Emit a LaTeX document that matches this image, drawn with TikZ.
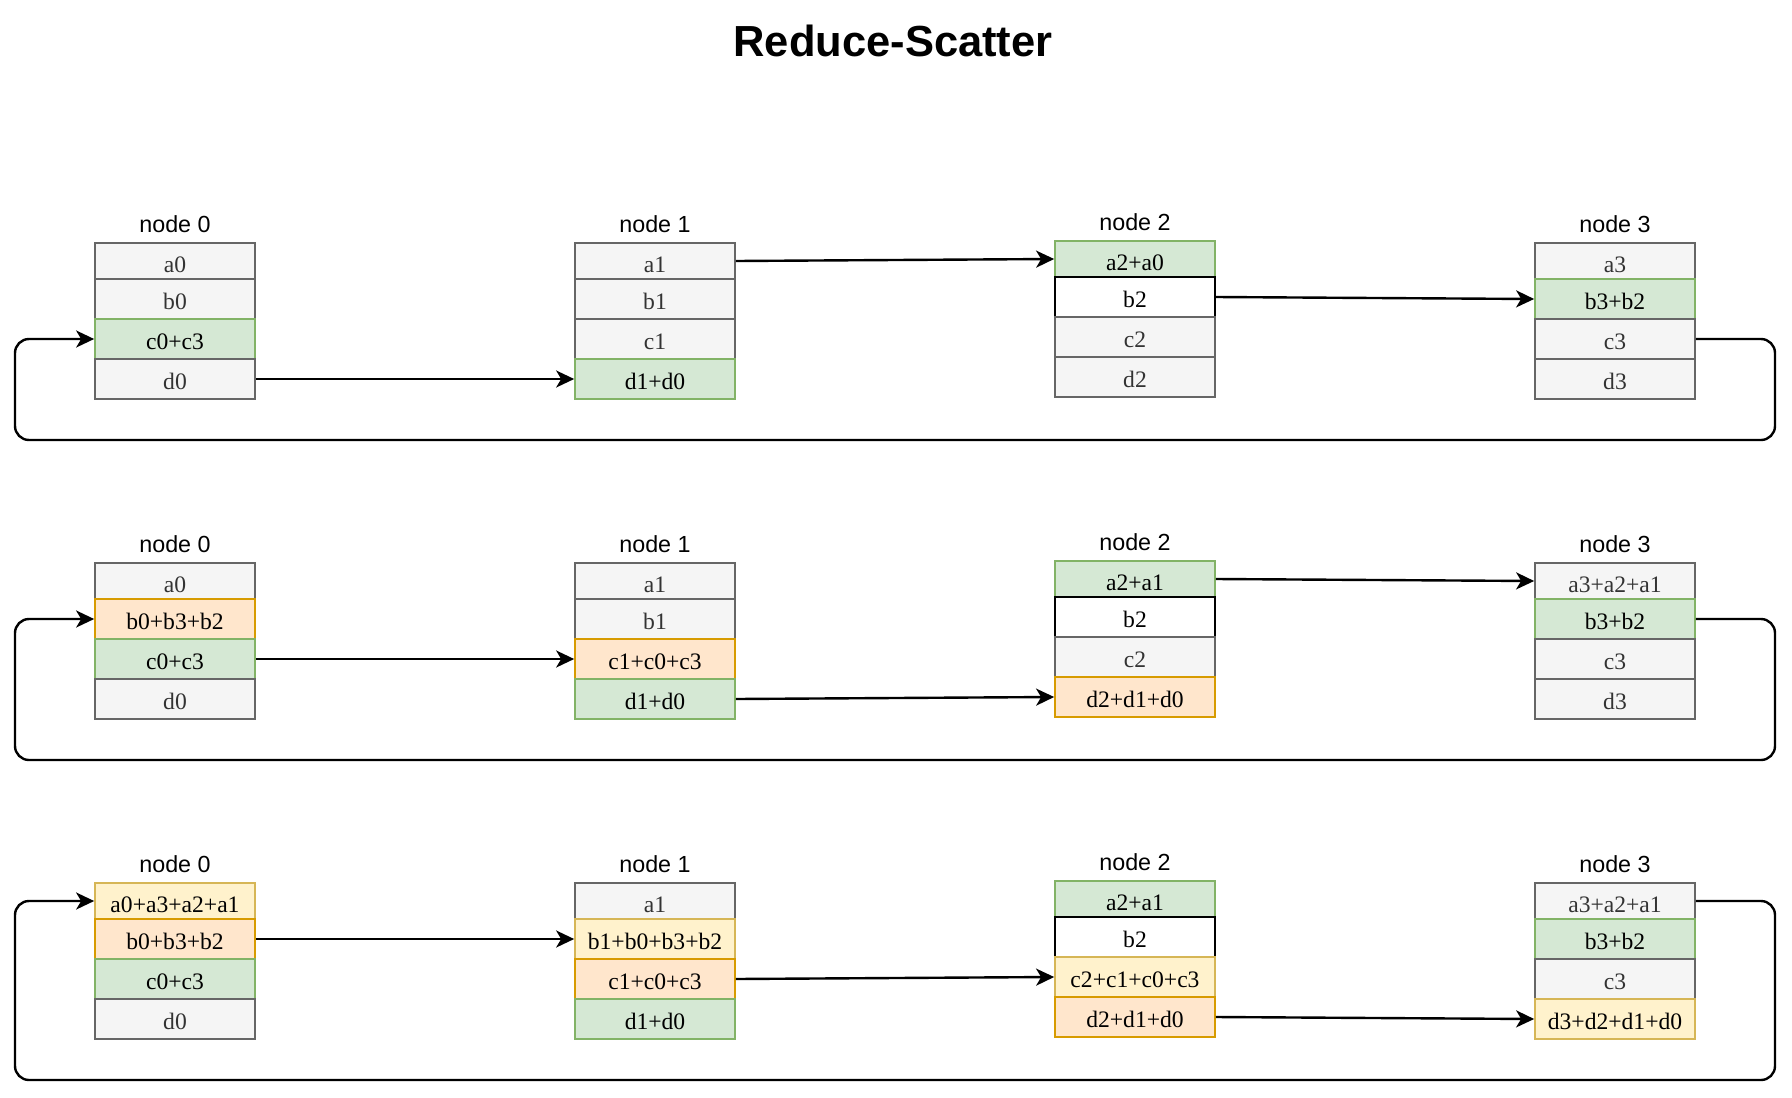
\documentclass[tikz,border=0pt]{standalone}
\usepackage{fontspec}
\setmainfont{Liberation Serif}
\newfontfamily\sansf{Liberation Sans}
\usetikzlibrary{arrows.meta}
\definecolor{gfill}{HTML}{F5F5F5}
\definecolor{gline}{HTML}{666666}
\definecolor{gtext}{HTML}{333333}
\definecolor{grfill}{HTML}{D5E8D4}
\definecolor{grline}{HTML}{82B366}
\definecolor{ofill}{HTML}{FFE6CC}
\definecolor{oline}{HTML}{D79B00}
\definecolor{yfill}{HTML}{FFF2CC}
\definecolor{yline}{HTML}{D6B656}
\tikzset{
  cell/.style={rectangle, draw, line width=1.7pt, minimum width=160pt, minimum height=40pt,
    inner sep=0pt, text height=20pt, text depth=0pt,
    font=\fontsize{23.6}{27}\selectfont},
  cgray/.style={fill=gfill, draw=gline, text=gtext},
  cgreen/.style={fill=grfill, draw=grline, text=black},
  corange/.style={fill=ofill, draw=oline, text=black},
  cyellow/.style={fill=yfill, draw=yline, text=black},
  cwhite/.style={fill=white, draw=black, text=black},
  lbl/.style={inner sep=0pt, anchor=base, font=\sansf\fontsize{23.3}{27}\selectfont},
  arr/.style={draw=black, line width=2.4pt, -{Stealth[length=18pt,width=17pt,inset=5pt]}},
}
\newcommand\colstack[5]{%
  \node[lbl] (#1-lab) at (#2,#3-11) {#4};
  \foreach \st/\tx [count=\i] in {#5} {%
    \ifnum\i=1
      \node[cell,\st,minimum height=36pt,text height=23pt] (#1-\i) at (#2,#3+18) {\tx};
    \else
      \node[cell,\st] (#1-\i) at (#2,{#3+36+20+(\i-2)*40}) {\tx};
    \fi
  }%
}
\begin{document}
\begin{tikzpicture}[x=1pt,y=-1pt]
\useasboundingbox (0,0) rectangle (1792,1098);
\fill[white] (0,0) rectangle (1792,1098);
\node[inner sep=0pt, anchor=base, font=\sansf\bfseries\fontsize{43.5}{48}\selectfont] (title) at (893,56) {Reduce-Scatter};

% Row 1
\colstack{r1n0}{175}{243}{node 0}{cgray/a0,cgray/b0,cgreen/c0+c3,cgray/d0}
\colstack{r1n1}{655}{243}{node 1}{cgray/a1,cgray/b1,cgray/c1,cgreen/d1+d0}
\colstack{r1n2}{1135}{241}{node 2}{cgreen/a2+a0,cwhite/b2,cgray/c2,cgray/d2}
\colstack{r1n3}{1615}{243}{node 3}{cgray/a3,cgreen/b3+b2,cgray/c3,cgray/d3}

% Row 2
\colstack{r2n0}{175}{563}{node 0}{cgray/a0,corange/b0+b3+b2,cgreen/c0+c3,cgray/d0}
\colstack{r2n1}{655}{563}{node 1}{cgray/a1,cgray/b1,corange/c1+c0+c3,cgreen/d1+d0}
\colstack{r2n2}{1135}{561}{node 2}{cgreen/a2+a1,cwhite/b2,cgray/c2,corange/d2+d1+d0}
\colstack{r2n3}{1615}{563}{node 3}{cgray/a3+a2+a1,cgreen/b3+b2,cgray/c3,cgray/d3}

% Row 3
\colstack{r3n0}{175}{883}{node 0}{cyellow/a0+a3+a2+a1,corange/b0+b3+b2,cgreen/c0+c3,cgray/d0}
\colstack{r3n1}{655}{883}{node 1}{cgray/a1,cyellow/b1+b0+b3+b2,corange/c1+c0+c3,cgreen/d1+d0}
\colstack{r3n2}{1135}{881}{node 2}{cgreen/a2+a1,cwhite/b2,cyellow/c2+c1+c0+c3,corange/d2+d1+d0}
\colstack{r3n3}{1615}{883}{node 3}{cgray/a3+a2+a1,cgreen/b3+b2,cgray/c3,cyellow/d3+d2+d1+d0}

% loop corner coordinates
\coordinate (r1R) at (1775,440);
\coordinate (r1L) at (15,440);
\coordinate (r2R) at (1775,760);
\coordinate (r2L) at (15,760);
\coordinate (r3R) at (1775,1080);
\coordinate (r3L) at (15,1080);

% Row 1 connectors
\draw[arr] (r1n0-4.east) -- (r1n1-4.west);
\draw[arr] (r1n1-1.east) -- (r1n2-1.west);
\draw[arr] (r1n2-2.east) -- (r1n3-2.west);
\draw[arr, rounded corners=14pt] (r1n3-3.east) -| (r1R) -- (r1L) |- (r1n0-3.west);

% Row 2 connectors
\draw[arr] (r2n0-3.east) -- (r2n1-3.west);
\draw[arr] (r2n1-4.east) -- (r2n2-4.west);
\draw[arr] (r2n2-1.east) -- (r2n3-1.west);
\draw[arr, rounded corners=14pt] (r2n3-2.east) -| (r2R) -- (r2L) |- (r2n0-2.west);

% Row 3 connectors
\draw[arr] (r3n0-2.east) -- (r3n1-2.west);
\draw[arr] (r3n1-3.east) -- (r3n2-3.west);
\draw[arr] (r3n2-4.east) -- (r3n3-4.west);
\draw[arr, rounded corners=14pt] (r3n3-1.east) -| (r3R) -- (r3L) |- (r3n0-1.west);
\end{tikzpicture}
\end{document}
